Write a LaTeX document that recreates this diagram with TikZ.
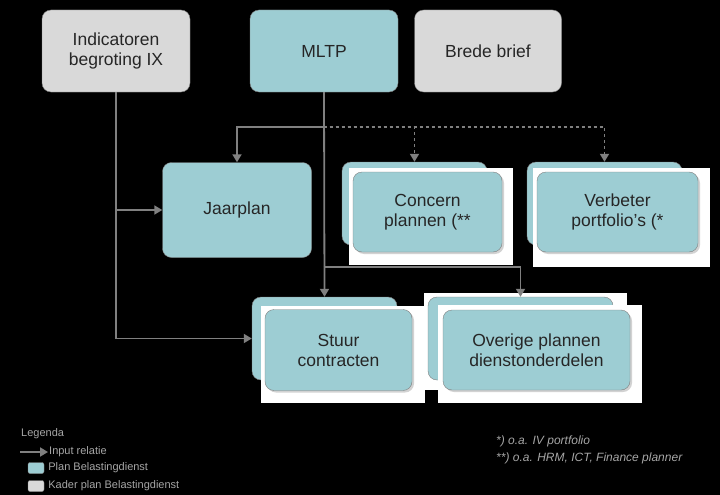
\documentclass[tikz,border=0pt]{standalone}
\usepackage{fontspec}
\setmainfont{Liberation Sans}
\usepackage{xcolor}
\usepackage{tikz}
\usetikzlibrary{shadows, arrows.meta}
\definecolor{planblue}{RGB}{157,205,211}
\definecolor{kadergray}{RGB}{217,217,217}
\definecolor{linegray}{RGB}{128,128,128}
\tikzstyle{kader}=[shape=rectangle, rounded corners=9pt, draw=linegray, fill=kadergray, align=center, font=\fontsize{17.5}{20}\selectfont, text=black!85]
\tikzstyle{plan}=[kader, fill=planblue]
\tikzstyle{planfront}=[plan, drop shadow={opacity=0.35, shadow xshift=2pt, shadow yshift=-2pt}]
\tikzstyle{sheet}=[fill=white, draw=none]
\tikzstyle{relatie}=[draw=linegray, line width=1.8pt]
\tikzstyle{legendtext}=[anchor=west, text=gray!70, font=\fontsize{11}{12}\selectfont, inner sep=1pt]
\newcommand{\gt}{>}
\tikzset{>={Triangle[width=9pt, length=8pt]}}

\begin{document}
\begin{tikzpicture}[x=1pt, y=-1pt]
\fill[black] (0,0) rectangle (720,495);
\useasboundingbox (0,0) rectangle (720,495);
\draw (116,51) node[kader, minimum width=148pt, minimum height=82pt](ind){Indicatoren\\begroting IX};
\draw (324,51) node[plan, minimum width=148pt, minimum height=82pt](mltp){MLTP};
\draw (488,51) node[kader, minimum width=147pt, minimum height=82pt](brief){Brede brief};
\draw (237,210) node[plan, minimum width=149pt, minimum height=95pt](jaar){Jaarplan};
\draw (414.5,203.5) node[plan, minimum width=145pt, minimum height=83pt](concB){};
\fill[sheet] (349,168) rectangle (513,265);
\draw (427.5,212) node[planfront, minimum width=149pt, minimum height=80pt](conc){Concern\\plannen (**};
\draw (604.5,203.5) node[plan, minimum width=155pt, minimum height=83pt](verbB){};
\fill[sheet] (533,168) rectangle (710,267);
\draw (617.5,212) node[planfront, minimum width=161pt, minimum height=80pt](verb){Verbeter\\portfolio's (*};
\draw (324.5,338.5) node[plan, minimum width=145pt, minimum height=83pt](stuurB){};
\fill[sheet] (261,306) rectangle (425,403);
\draw (338.5,350) node[planfront, minimum width=147pt, minimum height=81pt](stuur){Stuur\\contracten};
\fill[sheet] (424,293) rectangle (627,390);
\draw (520.5,338.5) node[plan, minimum width=185pt, minimum height=83pt](overB){};
\fill[sheet] (438,305) rectangle (642,403);
\draw (536.5,350) node[planfront, minimum width=187pt, minimum height=80pt](over){Overige plannen\\dienstonderdelen};
\coordinate (split) at (323.5,127);
\coordinate (split2) at (323.5,267);
\draw[relatie, - \gt ] (ind.south) |- (jaar.west);
\draw[relatie, - \gt ] (ind.south) |- (stuurB.west);
\draw[relatie, - \gt ] (mltp.south) -- (stuurB.north);
\draw[relatie, - \gt ] (split) -| (jaar.north);
\draw[relatie, dashed, - \gt ] (split) -| (concB.north);
\draw[relatie, dashed, - \gt ] (split) -| (verbB.north);
\draw[relatie, - \gt ] (split2) -| (overB.north);
\draw (20,434) node[legendtext](leg){Legenda};
\coordinate (legpijl) at (20,452);
\draw (48,452) node[legendtext](inp){Input relatie};
\draw[relatie, - \gt ] (legpijl) -- (inp.west);
\draw (36,468) node[plan, rounded corners=2pt, minimum width=16pt, minimum height=11pt, inner sep=0](legplan){};
\draw (legplan.east) node[legendtext, xshift=3pt](plantxt){Plan Belastingdienst};
\draw (36,486) node[kader, rounded corners=2pt, minimum width=16pt, minimum height=11pt, inner sep=0](legkader){};
\draw (legkader.east) node[legendtext, xshift=3pt](kadertxt){Kader plan Belastingdienst};
\draw (495,441) node[legendtext, font=\fontsize{12}{13}\selectfont\itshape](voet1){*) o.a. IV portfolio};
\draw (495,458) node[legendtext, font=\fontsize{12}{13}\selectfont\itshape](voet2){**) o.a. HRM, ICT, Finance planner};
\end{tikzpicture}
\end{document}
